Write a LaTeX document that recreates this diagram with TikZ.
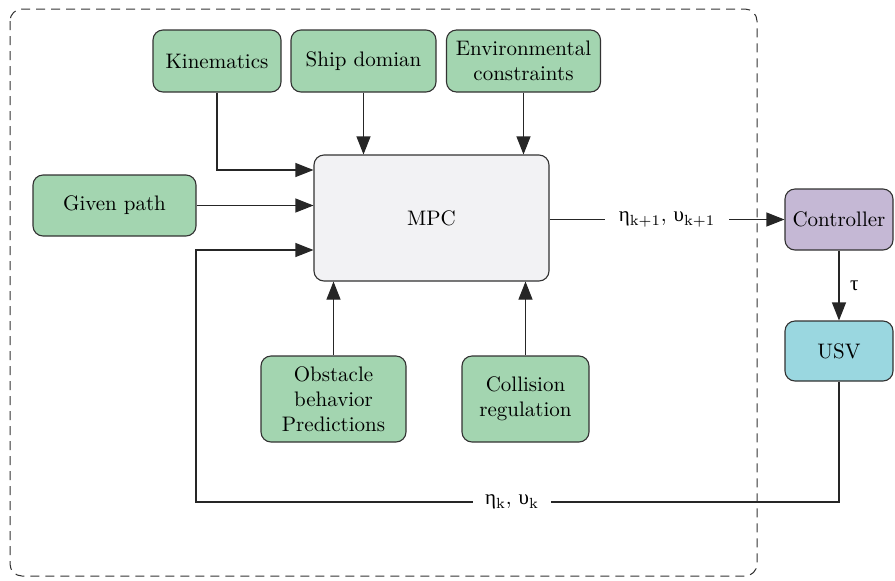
\documentclass[tikz,border=0pt]{standalone}
\usepackage{fontspec}
\newfontfamily\greekfont{Liberation Serif}
\usetikzlibrary{arrows.meta, calc}

\definecolor{boxgreen}{RGB}{163,213,176}
\definecolor{boxgray}{RGB}{242,242,244}
\definecolor{boxpurple}{RGB}{197,184,213}
\definecolor{boxcyan}{RGB}{154,215,224}
\definecolor{edgegray}{RGB}{50,50,50}

\begin{document}
\begin{tikzpicture}[x=0.5pt, y=-0.5pt,
  font=\fontsize{10.5}{12.5}\selectfont,
  block/.style={draw=edgegray, line width=0.55pt, rounded corners=5pt, align=center, inner sep=1pt},
  green/.style={block, fill=boxgreen},
  arr/.style={draw=black!85, line width=0.55pt, -{Triangle[length=9pt, width=7pt]}}]
\useasboundingbox (0, 0) rectangle (895, 580);
\draw[edgegray, line width=0.5pt, dash pattern=on 4.5pt off 3pt, rounded corners=6pt] (10, 9) rectangle (757, 576);

\node[green, minimum width=64pt, minimum height=31pt] (kin) at (217, 61) {Kinematics};
\node[green, minimum width=72.5pt, minimum height=31pt] (ship) at (363.5, 61) {Ship domian};
\node[green, minimum width=77pt, minimum height=31pt] (env) at (523.5, 61) {Environmental\\constraints};
\node[green, minimum width=81.5pt, minimum height=30.5pt] (path) at (114.5, 205.5) {Given path};
\node[block, fill=boxgray, minimum width=117.5pt, minimum height=63pt] (mpc) at (431.5, 218) {MPC};
\node[green, minimum width=72.5pt, minimum height=43pt] (obs) at (333.5, 399) {Obstacle\\behavior\\Predictions};
\node[green, minimum width=63.5pt, minimum height=43pt] (col) at (525.5, 399) {Collision\\regulation};
\node[block, fill=boxpurple, minimum width=54pt, minimum height=30.5pt] (ctrl) at (839, 219.5) {Controller};
\node[block, fill=boxcyan, minimum width=54pt, minimum height=30pt] (usv) at (839, 351) {USV};

\coordinate (fb) at (196, 502);

\draw[arr] (kin.south) |- (mpc.west |- 0, 170);
\draw[arr] (path.east) -- (path.east -| mpc.west);
\draw[arr] (ship.south) -- (ship.south |- mpc.north);
\draw[arr] (env.south) -- (env.south |- mpc.north);
\draw[arr] (obs.north) -- (obs.north |- mpc.south);
\draw[arr] (col.north) -- (col.north |- mpc.south);
\draw[arr] (mpc.east |- ctrl.west) -- node[fill=white, inner xsep=7pt] {{\greekfont η}\textsubscript{k+1}, {\greekfont υ}\textsubscript{k+1}} (ctrl.west);
\draw[arr] (ctrl.south) -- node[right, xshift=2pt] {\greekfont τ} (usv.north);
\draw[arr] (usv.south) |- (fb) |- (mpc.west |- 0, 250);
\node[fill=white, inner xsep=6pt] (fblabel) at (512, 502) {{\greekfont η}\textsubscript{k}, {\greekfont υ}\textsubscript{k}};
\end{tikzpicture}
\end{document}
